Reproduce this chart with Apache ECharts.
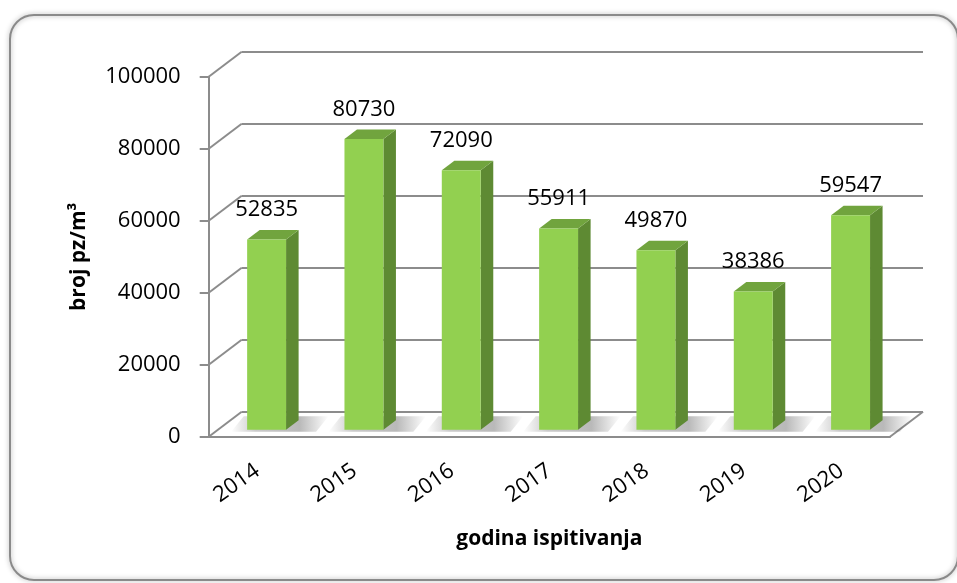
<!DOCTYPE html>
<html>
<head>
<meta charset="utf-8">
<script src="https://cdn.jsdelivr.net/npm/echarts@6/dist/echarts.min.js"></script>
<style>
html,body{margin:0;padding:0;background:#fff;}
#chart{width:957px;height:583px;}
</style>
</head>
<body>
<div id="chart"></div>
<script>
// ---- data ----
const categories = ['2014', '2015', '2016', '2017', '2018', '2019', '2020'];
const values = [52835, 80730, 72090, 55911, 49870, 38386, 59547];
const yTicks = [0, 20000, 40000, 60000, 80000, 100000];
const yAxisTitle = 'broj pz/m³';
const xAxisTitle = 'godina ispitivanja';

// ---- style constants ----
const DX = 33, DY = -25;           // depth offset of the back wall
const GRID = '#8c8c8c';
const FONT = 'Open Sans';
const FRONT = '#92D050', SIDE = '#5E8A33', TOP = '#71A43E';

const chart = echarts.init(document.getElementById('chart'), null, {renderer: 'canvas'});

function renderFrame(params, api) {
  const cs = params.coordSys;
  const y = api.coord([0, api.value(1)])[1];
  const children = [{
    type: 'line',
    shape: {x1: cs.x, y1: y, x2: cs.x + DX, y2: y + DY},
    style: {stroke: GRID, lineWidth: 2}
  }];
  if (api.value(1) === 0) {
    const r = cs.x + cs.width;
    children.push({
      type: 'line',
      shape: {x1: r, y1: y, x2: r + DX, y2: y + DY},
      style: {stroke: GRID, lineWidth: 2}
    });
  }
  return {type: 'group', children};
}

function renderBar(params, api) {
  const i = api.value(0), v = api.value(1);
  const top = api.coord([i, v]);
  const base = api.coord([i, 0]);
  const band = api.size([1, 0])[0];
  const hw = band * 0.2;
  const ox = DX * 0.28, oy = DY * 0.28;
  const bx = DX * 0.38, by = DY * 0.38;
  const xl = top[0] - hw + ox, xr = top[0] + hw + ox;
  const yt = top[1] + oy, yb = base[1] + oy;
  const sx0 = xl - 16, sx1 = xr + bx + 30;
  return {
    type: 'group',
    children: [
      {
        type: 'polygon',
        shape: {points: [[sx0, yb + 2], [sx1 - bx, yb + 2], [sx1, yb + by - 4], [sx0 + bx, yb + by - 4]]},
        style: {
          fill: new echarts.graphic.LinearGradient(0, 0, 1, 0, [
            {offset: 0, color: 'rgba(80,80,80,0)'},
            {offset: 0.25, color: 'rgba(80,80,80,0.3)'},
            {offset: 0.7, color: 'rgba(80,80,80,0.4)'},
            {offset: 1, color: 'rgba(80,80,80,0)'}
          ])
        }
      },
      {
        type: 'polygon',
        shape: {points: [[xr, yt], [xr + bx, yt + by], [xr + bx, yb + by], [xr, yb]]},
        style: {fill: SIDE}
      },
      {
        type: 'polygon',
        shape: {points: [[xl, yt], [xr, yt], [xr + bx, yt + by], [xl + bx, yt + by]]},
        style: {fill: TOP}
      },
      {
        type: 'rect',
        shape: {x: xl, y: yt, width: xr - xl, height: yb - yt},
        style: {fill: FRONT}
      },
      {
        type: 'text',
        style: {
          text: String(v),
          x: (xl + xr) / 2,
          y: yt + by - 9,
          textAlign: 'center',
          textVerticalAlign: 'bottom',
          fill: '#000',
          font: '22px "' + FONT + '"'
        }
      }
    ]
  };
}

const option = {
  backgroundColor: '#fff',
  animation: false,
  textStyle: {fontFamily: FONT},
  graphic: [{
    type: 'rect',
    z: -10,
    shape: {x: 10, y: 15, width: 948, height: 565, r: 24},
    style: {fill: 'none', stroke: '#8a8a8a', lineWidth: 2, shadowBlur: 5, shadowColor: 'rgba(0,0,0,0.35)'}
  }],
  grid: [
    {left: 208.7, top: 76.7, width: 681.3, height: 360},
    {left: 241.7, top: 51.7, width: 681.3, height: 360}
  ],
  xAxis: [
    {
      type: 'category', gridIndex: 0, data: categories,
      axisLine: {show: true, lineStyle: {color: GRID, width: 2}},
      axisTick: {show: false},
      axisLabel: {rotate: 35, margin: 32, fontSize: 22, color: '#000', fontFamily: FONT},
      name: xAxisTitle, nameLocation: 'middle', nameGap: 92,
      nameTextStyle: {fontSize: 21, fontWeight: 'bold', color: '#000', fontFamily: FONT}
    },
    {type: 'category', gridIndex: 1, data: categories, show: false}
  ],
  yAxis: [
    {
      type: 'value', gridIndex: 0, min: 0, max: 100000, interval: 20000,
      axisLine: {show: true, lineStyle: {color: GRID, width: 2}},
      axisTick: {show: true, length: 9, lineStyle: {color: GRID, width: 2}},
      splitLine: {show: false},
      axisLabel: {margin: 28, fontSize: 22, color: '#000', fontFamily: FONT, formatter: v => String(v)},
      name: yAxisTitle, nameLocation: 'middle', nameRotate: 90, nameGap: 119,
      nameTextStyle: {fontSize: 21, fontWeight: 'bold', color: '#000', fontFamily: FONT}
    },
    {
      type: 'value', gridIndex: 1, min: 0, max: 100000, interval: 20000,
      axisLine: {show: false}, axisTick: {show: false}, axisLabel: {show: false},
      splitLine: {show: true, lineStyle: {color: GRID, width: 2}}
    }
  ],
  series: [
    {
      type: 'custom', name: 'frame', xAxisIndex: 0, yAxisIndex: 0, z: 1,
      renderItem: renderFrame, silent: true,
      data: yTicks.map(t => [0, t])
    },
    {
      type: 'custom', name: 'bars', xAxisIndex: 0, yAxisIndex: 0, z: 3,
      renderItem: renderBar,
      data: values.map((v, i) => [i, v])
    }
  ]
};
chart.setOption(option);
</script>
</body>
</html>
